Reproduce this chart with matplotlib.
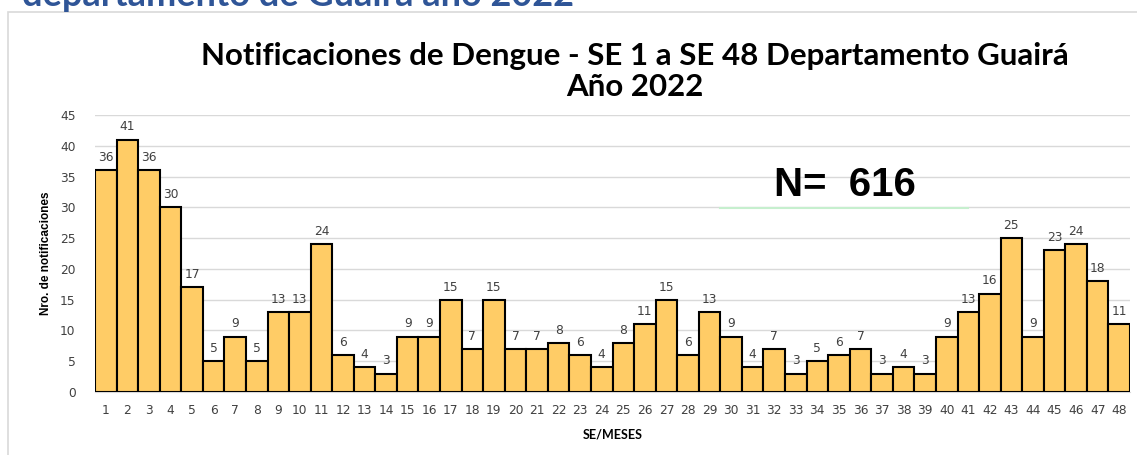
import matplotlib.pyplot as plt
import matplotlib.font_manager as fm
from matplotlib.lines import Line2D
from matplotlib.patches import Rectangle

semanas = [str(i) for i in range(1, 49)]
casos = [36, 41, 36, 30, 17, 5, 9, 5, 13, 13, 24, 6, 4, 3, 9, 9, 15, 7, 15, 7,
         7, 8, 6, 4, 8, 11, 15, 6, 13, 9, 4, 7, 3, 5, 6, 7, 3, 4, 3, 9,
         13, 16, 25, 9, 23, 24, 18, 11]
yticks = list(range(0, 50, 5))

titulo = "Notificaciones de Dengue - SE 1 a SE 48 Departamento Guairá\nAño 2022"
encabezado = "departamento de Guairá año 2022"
total_txt = "N=  616"

names = {f.name for f in fm.fontManager.ttflist}
narrow = "Liberation Sans Narrow" if "Liberation Sans Narrow" in names else "Liberation Sans"

fig = plt.figure(figsize=(11.37, 4.55), dpi=100)

# marco del grafico
fig.patches.append(Rectangle((8 / 1137, -0.1), 1.2, 1 - 12 / 455 + 0.1,
                             transform=fig.transFigure, fill=False,
                             edgecolor="#D9D9D9", linewidth=1.2))

fig.text(22 / 1137, 1 - 6 / 455, encabezado, fontsize=26, fontweight="bold",
         color="#2F5597", family="Lato", va="baseline", ha="left")

ax = fig.add_axes([95 / 1137, 1 - 392 / 455, 1035 / 1137, 277 / 455])
x = list(range(1, 49))
bars = ax.bar(x, casos, width=1.0, color="#FFCC66", edgecolor="black",
              linewidth=1.5, zorder=3)
for xi, v in zip(x, casos):
    ax.text(xi, v + 1.0, str(v), ha="center", va="bottom", fontsize=8.8,
            color="#404040")

ax.set_xlim(0.5, 48.5)
ax.set_ylim(0, 45)
ax.set_yticks(yticks)
ax.set_xticks(x)
ax.set_xticklabels(semanas)
ax.tick_params(axis="both", length=0, labelsize=8.8, colors="#404040")
ax.tick_params(axis="x", pad=9)
ax.tick_params(axis="y", pad=14)
ax.grid(axis="y", color="#D9D9D9", linewidth=1, zorder=0)
for s in ["top", "right", "left"]:
    ax.spines[s].set_visible(False)
ax.spines["bottom"].set_color("#D9D9D9")

ax.set_xlabel("SE/MESES", fontsize=9, fontweight="bold", family="Lato", labelpad=8)
ax.set_ylabel("Nro. de notificaciones", fontsize=8.5, fontweight="bold",
              family=narrow, labelpad=6)

fig.text(635 / 1137, 1 - 96 / 455, titulo, ha="center", va="baseline",
         fontsize=22.5, fontweight="bold", family="Lato", linespacing=1.15)

fig.text(845 / 1137, 1 - 196 / 455, total_txt, ha="center", va="baseline",
         fontsize=29, fontweight="bold", family=narrow)
fig.lines.append(Line2D([720 / 1137, 968 / 1137], [1 - 208 / 455, 1 - 208 / 455],
                        transform=fig.transFigure, color="#C6EFCE", linewidth=1.5))

fig.savefig("out.png", dpi=100)
